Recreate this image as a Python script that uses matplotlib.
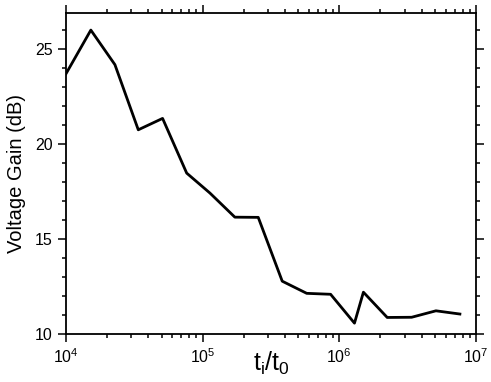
import matplotlib
matplotlib.use("Agg")
import matplotlib.pyplot as plt
from matplotlib.ticker import LogLocator, MultipleLocator, NullFormatter

plt.rcParams['font.family'] = ['Liberation Sans', 'DejaVu Sans']

# time ratio t_i/t_0 and voltage gain (dB)
t_ratio = [1.0e4, 1.52e4, 2.28e4, 3.38e4, 5.09e4, 7.64e4, 1.13e5, 1.72e5, 2.55e5,
           3.82e5, 5.77e5, 8.63e5, 1.29e6, 1.50e6, 2.24e6, 3.38e6, 5.09e6, 7.62e6]
gain_db = [23.7, 26.0, 24.18, 20.75, 21.35, 18.47, 17.42, 16.15, 16.14,
           12.78, 12.14, 12.09, 10.57, 12.2, 10.87, 10.88, 11.22, 11.05]

fig = plt.figure(figsize=(4.91, 3.82), dpi=100)
ax = fig.add_axes([0.1344, 0.1257, 0.8351, 0.8403])
ax.plot(t_ratio, gain_db, color='black', lw=2)

ax.set_xscale('log')
ax.set_xlim(1e4, 1e7)
ax.set_ylim(10, 26.9)
ax.yaxis.set_major_locator(MultipleLocator(5))
ax.yaxis.set_minor_locator(MultipleLocator(1))
ax.xaxis.set_major_locator(LogLocator(base=10, numticks=10))
ax.xaxis.set_minor_locator(LogLocator(base=10, subs=range(2, 10), numticks=20))
ax.xaxis.set_minor_formatter(NullFormatter())

for s in ax.spines.values():
    s.set_linewidth(1.3)
ax.tick_params(which='both', direction='out', top=True, right=True,
               labeltop=False, labelright=False, width=1.1, labelsize=11.5)
ax.tick_params(which='major', length=6)
ax.tick_params(which='minor', length=3)

ax.set_ylabel('Voltage Gain (dB)', fontsize=14.5)
ax.yaxis.set_label_coords(-0.097, 0.5)
ax.set_xlabel(r'$\mathregular{t_i/t_0}$', fontsize=18)
ax.xaxis.set_label_coords(0.5, -0.048)

fig.savefig('out.png', dpi=100)
